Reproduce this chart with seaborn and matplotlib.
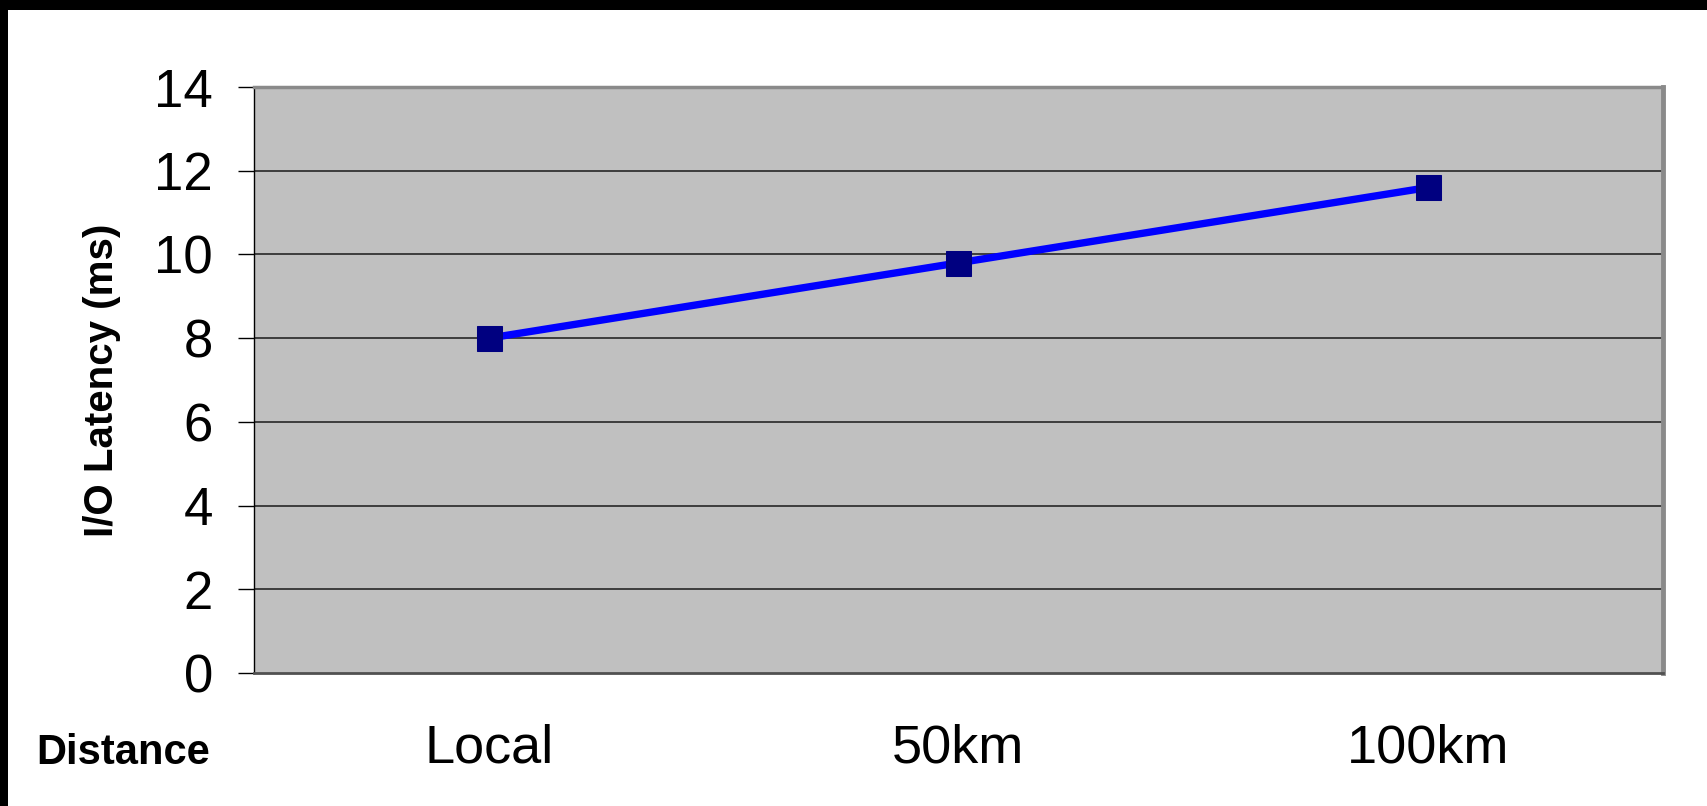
import matplotlib
matplotlib.use("Agg")
import matplotlib.pyplot as plt
from matplotlib.patches import Rectangle
from matplotlib.ticker import FixedLocator
import seaborn as sns
import pandas as pd

# Measured I/O latency by replication distance
distances = ["Local", "50km", "100km"]
latency_ms = [8.0, 9.8, 11.6]
y_ticks = [0, 2, 4, 6, 8, 10, 12, 14]

sns.set_theme(style="white")
plt.rcParams["font.family"] = ["Liberation Sans", "DejaVu Sans"]
plt.rcParams["text.color"] = "black"
plt.rcParams["axes.labelcolor"] = "black"
plt.rcParams["xtick.color"] = "black"
plt.rcParams["ytick.color"] = "black"

df = pd.DataFrame({"Distance": distances, "Latency": latency_ms})

fig = plt.figure(figsize=(17.07, 8.06), dpi=100)
ax = fig.add_axes([0.1488, 0.165, 0.8254, 0.727])
ax.set_facecolor("#C0C0C0")

sns.lineplot(data=df, x="Distance", y="Latency", ax=ax, color="#0000FF",
             linewidth=5.3, marker="s", markersize=18,
             markerfacecolor="#000080", markeredgecolor="#000080", zorder=3)

ax.set_xlim(-0.5, len(distances) - 0.5)
ax.set_ylim(y_ticks[0], y_ticks[-1])
ax.set_yticks(y_ticks)
ax.set_yticklabels([str(t) for t in y_ticks])

# horizontal gridlines
ax.grid(False)
for t in y_ticks[1:-1]:
    ax.axhline(t, color="#333333", linewidth=1.3, zorder=1)

# category labels centred, tick marks on the bin boundaries
ax.set_xticks(range(len(distances)))
ax.set_xticklabels(distances)
ax.xaxis.set_minor_locator(FixedLocator([i - 0.5 for i in range(len(distances) + 1)]))
ax.tick_params(axis="x", which="major", length=0, pad=36, labelsize=39, labelcolor="black")
ax.tick_params(axis="x", which="minor", length=10.5, width=1.0, color="black", direction="out")
ax.tick_params(axis="y", which="major", length=11.5, width=1.0, color="black",
               direction="out", pad=18, labelsize=38, labelcolor="black", left=True)

ax.set_xlabel("")
ax.set_ylabel("I/O Latency (ms)", fontsize=29, fontweight="bold", labelpad=24, color="black")

ax.spines["left"].set_color("black")
ax.spines["left"].set_linewidth(1.0)
ax.spines["bottom"].set_color("#505050")
ax.spines["bottom"].set_linewidth(2.0)
ax.spines["top"].set_color("#8a8a8a")
ax.spines["top"].set_linewidth(2.5)
ax.spines["right"].set_color("#8a8a8a")
ax.spines["right"].set_linewidth(3.5)
for s in ax.spines.values():
    s.set_visible(True)

fig.text(36 / 1707, (806 - 764) / 806, "Distance", fontsize=30, fontweight="bold",
         ha="left", va="baseline", color="black")

# black frame along the top and left edges
fig.patches.append(Rectangle((0, 1 - 10 / 806), 1, 10 / 806, transform=fig.transFigure,
                             facecolor="black", edgecolor="none", zorder=10))
fig.patches.append(Rectangle((0, 0), 8 / 1707, 1, transform=fig.transFigure,
                             facecolor="black", edgecolor="none", zorder=10))

fig.savefig("out.png", dpi=100, facecolor="white")
